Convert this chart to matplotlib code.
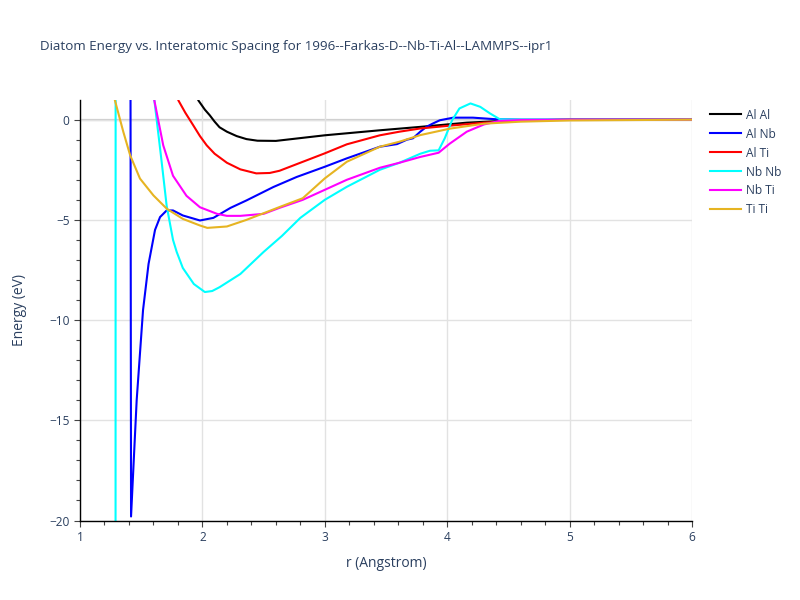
import matplotlib as mpl

mpl.use('Agg')
import matplotlib.pyplot as plt
from matplotlib.ticker import MultipleLocator

plt.rcParams['font.family'] = ['Open Sans', 'DejaVu Sans']

# values (r in Angstrom, E in eV)
al_al_r = [1.95, 1.966, 2.02, 2.06, 2.1, 2.14, 2.2, 2.28, 2.36, 2.45, 2.6, 3.0, 3.45, 3.78, 4.16,
           4.5, 5.0, 6.0]
al_al_e = [5.0, 0.97, 0.5, 0.22, -0.1, -0.38, -0.6, -0.82, -0.97, -1.05, -1.06, -0.78, -0.53,
           -0.36, -0.15, -0.05, 0.0, 0.0]

al_nb_r = [1.405, 1.417, 1.436, 1.463, 1.515, 1.56, 1.613, 1.654, 1.708, 1.76, 1.84, 1.98, 2.09,
           2.23, 2.36, 2.58, 2.77, 3.0, 3.18, 3.45, 3.59, 3.67, 3.72, 3.78, 3.83, 3.88, 3.94, 4.05,
           4.21, 4.4, 4.6, 6.0]
al_nb_e = [40.0, -19.8, -17.4, -14.0, -9.5, -7.2, -5.5, -4.86, -4.53, -4.53, -4.78, -5.03, -4.9,
           -4.4, -4.03, -3.36, -2.86, -2.35, -1.93, -1.35, -1.22, -1.0, -0.93, -0.6, -0.36, -0.2,
           -0.03, 0.1, 0.1, 0.02, 0.0, 0.0]

al_ti_r = [1.78, 1.803, 1.86, 1.925, 1.98, 2.035, 2.1, 2.2, 2.31, 2.44, 2.55, 2.63, 2.8, 3.0,
           3.18, 3.45, 3.61, 3.78, 4.02, 4.3, 4.6, 5.0, 6.0]
al_ti_e = [10.0, 0.97, 0.35, -0.28, -0.82, -1.28, -1.7, -2.15, -2.48, -2.68, -2.66, -2.55, -2.15,
           -1.68, -1.23, -0.78, -0.6, -0.44, -0.3, -0.15, -0.05, 0.0, 0.0]

nb_nb_r = [1.29, 1.292, 1.58, 1.607, 1.667, 1.708, 1.76, 1.79, 1.84, 1.93, 2.02, 2.08, 2.14, 2.31,
           2.5, 2.65, 2.8, 3.0, 3.18, 3.45, 3.61, 3.78, 3.86, 3.93, 3.98, 4.04, 4.1, 4.19, 4.27,
           4.35, 4.43, 4.6, 6.0]
nb_nb_e = [-40.0, 40.0, 20.0, 1.0, -2.1, -4.3, -6.0, -6.6, -7.4, -8.2, -8.6, -8.55, -8.36, -7.7,
           -6.6, -5.8, -4.9, -4.0, -3.35, -2.5, -2.15, -1.7, -1.55, -1.53, -0.93, -0.03, 0.56,
           0.81, 0.64, 0.31, 0.02, 0.0, 0.0]

nb_ti_r = [1.59, 1.607, 1.68, 1.76, 1.87, 1.98, 2.12, 2.2, 2.31, 2.5, 2.63, 2.82, 3.0, 3.18,
           3.45, 3.61, 3.78, 3.93, 4.02, 4.16, 4.3, 4.43, 4.6, 5.0, 6.0]
nb_ti_e = [20.0, 0.97, -1.28, -2.8, -3.8, -4.37, -4.7, -4.8, -4.8, -4.7, -4.4, -4.0, -3.5, -3.0,
           -2.4, -2.15, -1.86, -1.65, -1.2, -0.6, -0.24, -0.06, -0.02, 0.0, 0.0]

ti_ti_r = [1.275, 1.354, 1.41, 1.49, 1.6, 1.71, 1.84, 1.98, 2.04, 2.2, 2.36, 2.63, 2.82, 3.0,
           3.18, 3.45, 3.61, 3.78, 4.02, 4.3, 4.6, 5.0, 6.0]
ti_ti_e = [1.2, -0.61, -1.78, -2.94, -3.78, -4.45, -4.95, -5.28, -5.4, -5.33, -5.0, -4.36,
           -3.92, -2.93, -2.1, -1.35, -1.1, -0.77, -0.45, -0.2, -0.1, -0.04, 0.0]

series = [
    ('Al Al', al_al_r, al_al_e, 'black'),
    ('Al Nb', al_nb_r, al_nb_e, '#0000ff'),
    ('Al Ti', al_ti_r, al_ti_e, '#ff0000'),
    ('Nb Nb', nb_nb_r, nb_nb_e, '#00ffff'),
    ('Nb Ti', nb_ti_r, nb_ti_e, '#ff00ff'),
    ('Ti Ti', ti_ti_r, ti_ti_e, '#e6b422'),
]

txt = '#2a3f5f'

fig = plt.figure(figsize=(8, 6), dpi=100)
ax = fig.add_axes([0.1, 0.1325, 0.765, 0.7008])

for name, r, e, c in series:
    ax.plot(r, e, color=c, lw=1.5, label=name)

ax.set_xlim(1, 6)
ax.set_ylim(-20, 0.98)

ax.xaxis.set_major_locator(MultipleLocator(1))
ax.xaxis.set_minor_locator(MultipleLocator(0.2))
ax.yaxis.set_major_locator(MultipleLocator(5))
ax.yaxis.set_minor_locator(MultipleLocator(1))

ax.grid(True, which='major', color='#e2e2e2', lw=1.0)
ax.axhline(0, color='#cccccc', lw=1.6, zorder=0.5)
ax.set_axisbelow(True)

for s in ['top', 'right']:
    ax.spines[s].set_visible(False)
for s in ['left', 'bottom']:
    ax.spines[s].set_color('black')
    ax.spines[s].set_linewidth(1.0)

ax.tick_params(which='major', length=4.5, width=0.8, color='#444444', labelsize=8.6,
               labelcolor=txt, pad=3)
ax.tick_params(which='minor', length=3, width=0.8, color='#444444')
ax.set_yticks([0, -5, -10, -15, -20])
ax.set_yticklabels(['0', '\u22125', '\u221210', '\u221215', '\u221220'])

ax.set_xlabel('r (Angstrom)', fontsize=10, color=txt, labelpad=9)
ax.set_ylabel('Energy (eV)', fontsize=10, color=txt, labelpad=16)

fig.text(0.05, 0.923, 'Diatom Energy vs. Interatomic Spacing for 1996--Farkas-D--Nb-Ti-Al--LAMMPS--ipr1',
         fontsize=9.6, color=txt, va='center', ha='left')

leg = fig.legend(loc='upper left', bbox_to_anchor=(0.887, 0.819), frameon=False,
                 fontsize=8.6, handlelength=2.6, handletextpad=0.45, labelspacing=0.5,
                 borderaxespad=0, borderpad=0)
for t in leg.get_texts():
    t.set_color(txt)

fig.savefig('out.png', dpi=100)
